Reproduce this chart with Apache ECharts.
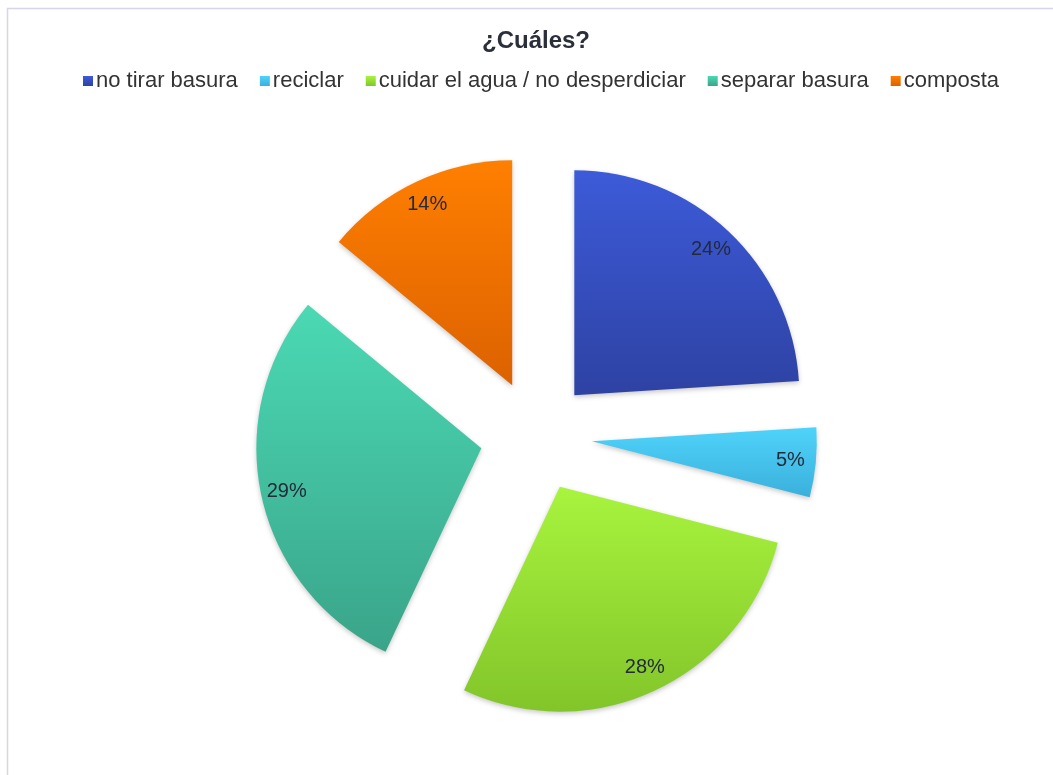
<!DOCTYPE html>
<html>
<head>
<meta charset="utf-8">
<title>¿Cuáles?</title>
<script src="https://cdn.jsdelivr.net/npm/echarts@6/dist/echarts.min.js"></script>
<style>
  html, body { margin: 0; padding: 0; background: #fff; }
  #chart { width: 1053px; height: 775px; }
</style>
</head>
<body>
<div id="chart"></div>
<script>
// datos
var categorias = ['no tirar basura', 'reciclar', 'cuidar el agua / no desperdiciar', 'separar basura', 'composta'];
var porcentajes = [24, 5, 28, 29, 14];
var coloresArriba = ['#3d5bd9', '#4fd3fb', '#a8f43e', '#4bd9b4', '#ff7f00'];
var coloresAbajo = ['#2e42a3', '#3ab0dc', '#82c52a', '#3aa489', '#dc6200'];

var myChart = echarts.init(document.getElementById('chart'));

function degradado(i) {
    return new echarts.graphic.LinearGradient(0, 0, 0, 1, [
        {offset: 0, color: coloresArriba[i]},
        {offset: 1, color: coloresAbajo[i]}
    ]);
}

var datos = [], etiquetas = [];
for (var i = 0; i < categorias.length; i++) {
    datos.push({
        name: categorias[i],
        value: porcentajes[i],
        selected: true,
        itemStyle: {color: degradado(i)}
    });
    etiquetas.push({
        name: categorias[i],
        value: porcentajes[i],
        selected: true
    });
}

var centro = [536, 436];
var separacion = 56;

myChart.setOption({
    animation: false,
    backgroundColor: '#ffffff',
    color: coloresArriba,
    title: {
        text: '¿Cuáles?',
        left: 477,
        top: 24,
        textStyle: {
            fontFamily: 'Liberation Sans',
            fontSize: 24,
            fontWeight: 'bold',
            color: '#2b2f3a'
        }
    },
    legend: {
        data: categorias,
        left: 78,
        top: 65,
        icon: 'rect',
        itemWidth: 10,
        itemHeight: 10,
        itemGap: 22,
        selectedMode: false,
        textStyle: {
            fontFamily: 'Liberation Sans',
            fontSize: 22,
            color: '#333333',
            padding: [0, 0, 0, -2]
        }
    },
    graphic: [{
        type: 'rect',
        silent: true,
        shape: {x: 7.5, y: 8.5, width: 1100, height: 800},
        style: {fill: 'none', stroke: '#d6d6e6', lineWidth: 1.5}
    }],
    series: [
        {
            name: '¿Cuáles?',
            type: 'pie',
            center: centro,
            radius: [0, 225],
            selectedMode: 'multiple',
            selectedOffset: separacion,
            silent: true,
            label: {show: false},
            labelLine: {show: false},
            itemStyle: {
                shadowBlur: 5,
                shadowOffsetY: 2,
                shadowColor: 'rgba(0,0,0,0.22)'
            },
            select: {itemStyle: {borderWidth: 0}},
            data: datos
        },
        {
            // capa transparente solo para colocar las etiquetas cerca del borde
            name: 'etiquetas',
            type: 'pie',
            center: centro,
            radius: [168, 225],
            selectedMode: 'multiple',
            selectedOffset: separacion,
            silent: true,
            itemStyle: {color: 'rgba(0,0,0,0)'},
            select: {itemStyle: {color: 'rgba(0,0,0,0)', borderWidth: 0}},
            label: {
                show: true,
                position: 'inside',
                formatter: '{c}%',
                fontFamily: 'Liberation Sans',
                fontSize: 20,
                color: '#232a3a',
                offset: [0, 3]
            },
            labelLine: {show: false},
            data: etiquetas
        }
    ]
});
</script>
</body>
</html>
